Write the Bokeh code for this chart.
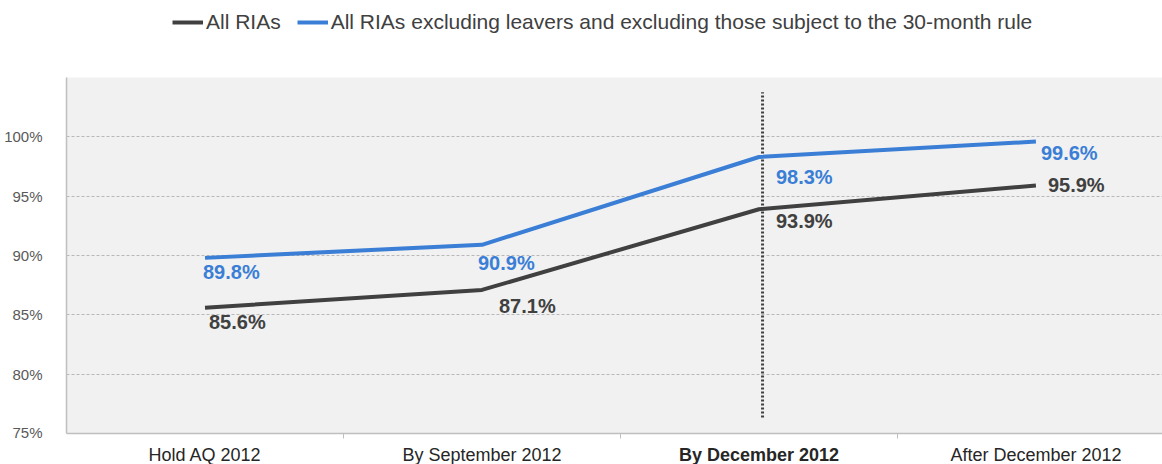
from bokeh.plotting import figure
from bokeh.layouts import column
from bokeh.models import (Range1d, FixedTicker, Legend, LegendItem,
                          ColumnDataSource, LinearAxis)
from bokeh.embed import file_html
from bokeh.resources import INLINE
from bokeh.core.properties import value

# ---- data ----
categories = ["Hold AQ 2012", "By September 2012", "By December 2012", "After December 2012"]
all_rias = [85.6, 87.1, 93.9, 95.9]
excl_rias = [89.8, 90.9, 98.3, 99.6]
series_names = ["All RIAs", "All RIAs excluding leavers and excluding those subject to the 30-month rule"]
y_ticks = [75, 80, 85, 90, 95, 100, 105]
highlight_category = "By December 2012"
divider_span = [76.35, 103.75]

# ---- style ----
BLACK = "#404040"
BLUE = "#3a7ed6"
FONT = "Liberation Sans"
W = 1162
all_dx, all_dy = [4, 17, 17, 12], [14, 16, 12, 0]
excl_dx, excl_dy = [-2, -4, 17, 5], [14, 18, 20, 11]

xs = [i + 0.5 for i in range(len(categories))]
x_range = Range1d(0, 3.957)

# ---------- main chart ----------
p = figure(width=W, height=400, output_backend="svg", toolbar_location=None,
           x_range=x_range, y_range=Range1d(75, 105),
           min_border_left=66, min_border_right=0, min_border_top=37, min_border_bottom=7,
           x_axis_location=None, y_axis_location=None)
p.background_fill_color = "#f1f1f1"
p.border_fill_color = "white"
p.outline_line_color = None

xaxis = LinearAxis(ticker=FixedTicker(ticks=xs, minor_ticks=[1, 2, 3]))
xaxis.major_label_overrides = {x: "" for x in xs}
xaxis.major_label_text_font_size = "0px"
xaxis.major_label_standoff = 0
xaxis.major_tick_line_color = None
xaxis.minor_tick_line_color = "#bfbfbf"
xaxis.minor_tick_in = 0
xaxis.minor_tick_out = 5
xaxis.axis_line_color = "#bfbfbf"
xaxis.axis_line_width = 1.5
p.add_layout(xaxis, "below")

yaxis = LinearAxis(ticker=FixedTicker(ticks=y_ticks))
yaxis.major_label_overrides = {t: ("" if t == 105 else f"{t}%") for t in y_ticks}
yaxis.major_tick_line_color = None
yaxis.minor_tick_line_color = None
yaxis.axis_line_color = "#bfbfbf"
yaxis.axis_line_width = 1.5
yaxis.major_label_text_font = FONT
yaxis.major_label_text_font_size = "15px"
yaxis.major_label_text_color = "#595959"
yaxis.major_label_standoff = 18
p.add_layout(yaxis, "left")

p.xgrid.visible = False
p.ygrid.ticker = FixedTicker(ticks=y_ticks)
p.ygrid.grid_line_color = "#b8b8b8"
p.ygrid.grid_line_dash = "3 2"
p.ygrid.grid_line_width = 1

hx = xs[categories.index(highlight_category)] + 0.013
p.segment(x0=[hx], y0=[divider_span[0]], x1=[hx], y1=[divider_span[1]],
          line_color=BLACK, line_width=3, line_dash="2 2")

src = ColumnDataSource(dict(x=xs, a=all_rias, b=excl_rias,
                            al=[f"{v:.1f}%" for v in all_rias],
                            bl=[f"{v:.1f}%" for v in excl_rias],
                            adx=all_dx, ady=all_dy, bdx=excl_dx, bdy=excl_dy))

p.line("x", "a", source=src, line_color=BLACK, line_width=4)
p.line("x", "b", source=src, line_color=BLUE, line_width=4)

p.text("x", "a", text="al", source=src, x_offset="adx", y_offset="ady", text_align="left",
       text_baseline="middle", text_font=value(FONT), text_font_size="20px",
       text_font_style="bold", text_color=BLACK)
p.text("x", "b", text="bl", source=src, x_offset="bdx", y_offset="bdy", text_align="left",
       text_baseline="middle", text_font=value(FONT), text_font_size="20px",
       text_font_style="bold", text_color=BLUE)

# ---------- legend strip (frame aligned with main chart by the column layout) ----------
lg = figure(width=W, height=40, output_backend="svg", toolbar_location=None,
            x_range=x_range, y_range=Range1d(0, 1),
            min_border_left=66, min_border_right=0, min_border_top=0, min_border_bottom=0,
            x_axis_location=None, y_axis_location=None)
lg.outline_line_color = None
lg.grid.visible = False
# same series, out of this strip's view: only their legend swatches show
ra = lg.line("x", "a", source=src, line_color=BLACK, line_width=4)
rb = lg.line("x", "b", source=src, line_color=BLUE, line_width=4)
legend = Legend(items=[LegendItem(label=series_names[0], renderers=[ra]),
                       LegendItem(label=series_names[1], renderers=[rb])],
                orientation="horizontal", location=(106, 6),
                label_text_font=FONT, label_text_font_size="21px", label_text_color="#404040",
                glyph_width=31, label_standoff=3, spacing=16, border_line_color=None,
                background_fill_alpha=0, padding=0, margin=0)
lg.add_layout(legend, "center")

# ---------- category labels strip ----------
lb = figure(width=W, height=24, output_backend="svg", toolbar_location=None,
            x_range=x_range, y_range=Range1d(0, 24),
            min_border_left=66, min_border_right=0, min_border_top=0, min_border_bottom=0,
            x_axis_location=None, y_axis_location=None)
lb.outline_line_color = None
lb.grid.visible = False
styles = ["bold" if c == highlight_category else "normal" for c in categories]
cat_src = ColumnDataSource(dict(x=xs, y=[10] * len(xs), t=categories, s=styles))
lb.text("x", "y", text="t", source=cat_src, text_align="center", text_baseline="middle",
        text_font=value(FONT), text_font_size="18px", text_font_style="s",
        text_color="#262626")

layout = column(lg, p, lb, spacing=0)
open("out.html", "w").write(file_html(layout, INLINE))
